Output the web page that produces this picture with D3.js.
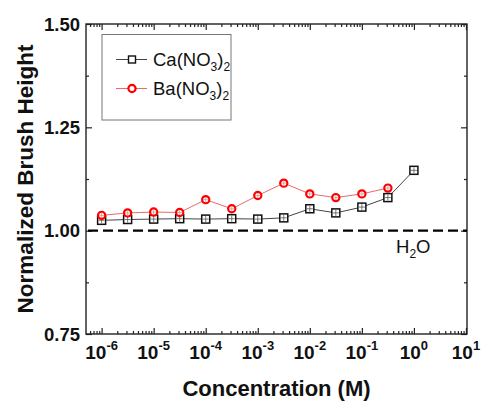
<!DOCTYPE html>
<html>
<head>
<meta charset="utf-8">
<script src="https://cdn.jsdelivr.net/npm/d3@7"></script>
<style>
  html, body { margin: 0; padding: 0; background: #fff; }
  svg { display: block; font-family: "Liberation Sans", Arial, sans-serif; }
</style>
</head>
<body>
<svg id="chart" width="481" height="401"></svg>
<script>
// Concentrations (M), half-decade steps
const concCa = [1e-6, 3.16e-6, 1e-5, 3.16e-5, 1e-4, 3.16e-4, 1e-3, 3.16e-3, 1e-2, 3.16e-2, 1e-1, 3.16e-1, 1];
const concBa = [1e-6, 3.16e-6, 1e-5, 3.16e-5, 1e-4, 3.16e-4, 1e-3, 3.16e-3, 1e-2, 3.16e-2, 1e-1, 3.16e-1];
// Normalized brush height
const heightCa = [1.025, 1.027, 1.028, 1.029, 1.028, 1.029, 1.028, 1.031, 1.053, 1.043, 1.057, 1.080, 1.146];
const heightBa = [1.037, 1.043, 1.045, 1.044, 1.075, 1.053, 1.085, 1.115, 1.089, 1.080, 1.089, 1.103];
// Axis ticks
const xTickExp = [-6, -5, -4, -3, -2, -1, 0, 1];
const yTicks = [0.75, 1.00, 1.25, 1.50];
const yMinor = [0.875, 1.125, 1.375];
const referenceLevel = 1.0;

const svg = d3.select("#chart");
const plotL = 86, plotR = 467, plotT = 24, plotB = 334;

const x = d3.scaleLog().domain([Math.pow(10, -6.3), Math.pow(10, 1.02)]).range([plotL, plotR]);
const y = d3.scaleLinear().domain([0.75, 1.5]).range([plotB, plotT]);

const axisColor = "#222";

// minor x ticks (2..9 per decade)
const xMinor = [];
for (let e = -7; e <= 1; e++) {
  for (let m = 2; m <= 9; m++) {
    const v = m * Math.pow(10, e);
    if (v > x.domain()[0] && v < x.domain()[1]) xMinor.push(v);
  }
}
const xMajor = xTickExp.map(e => Math.pow(10, e));

function styleAxis(g) {
  g.select(".domain").remove();
  g.selectAll("line").attr("stroke", axisColor).attr("stroke-width", 1.2);
  g.selectAll("text").remove();
}

// bottom and top ticks (inward)
svg.append("g").attr("transform", `translate(0,${plotB})`)
  .call(d3.axisBottom(x).tickValues(xMajor).tickSize(-6).tickFormat("")).call(styleAxis);
svg.append("g").attr("transform", `translate(0,${plotB})`)
  .call(d3.axisBottom(x).tickValues(xMinor).tickSize(-3).tickFormat("")).call(styleAxis);
svg.append("g").attr("transform", `translate(0,${plotT})`)
  .call(d3.axisTop(x).tickValues(xMajor).tickSize(-6).tickFormat("")).call(styleAxis);
svg.append("g").attr("transform", `translate(0,${plotT})`)
  .call(d3.axisTop(x).tickValues(xMinor).tickSize(-3).tickFormat("")).call(styleAxis);

// left and right ticks (inward)
svg.append("g").attr("transform", `translate(${plotL},0)`)
  .call(d3.axisLeft(y).tickValues(yTicks).tickSize(-6).tickFormat("")).call(styleAxis);
svg.append("g").attr("transform", `translate(${plotL},0)`)
  .call(d3.axisLeft(y).tickValues(yMinor).tickSize(-3).tickFormat("")).call(styleAxis);
svg.append("g").attr("transform", `translate(${plotR},0)`)
  .call(d3.axisRight(y).tickValues(yTicks).tickSize(-6).tickFormat("")).call(styleAxis);
svg.append("g").attr("transform", `translate(${plotR},0)`)
  .call(d3.axisRight(y).tickValues(yMinor).tickSize(-3).tickFormat("")).call(styleAxis);

// frame
svg.append("rect")
  .attr("x", plotL).attr("y", plotT)
  .attr("width", plotR - plotL).attr("height", plotB - plotT)
  .attr("fill", "none").attr("stroke", axisColor).attr("stroke-width", 1.4);

// y tick labels
svg.append("g").selectAll("text").data(yTicks).join("text")
  .attr("x", plotL - 6).attr("y", d => y(d) + 6.5)
  .attr("text-anchor", "end")
  .attr("font-size", 18.5).attr("font-weight", "bold").attr("fill", "#111")
  .text(d => d.toFixed(2));

// x tick labels: 10 with superscript exponent
const xl = svg.append("g").selectAll("text").data(xTickExp).join("text")
  .attr("x", d => x(Math.pow(10, d)))
  .attr("y", 359)
  .attr("text-anchor", "middle")
  .attr("font-weight", "bold").attr("fill", "#111");
xl.append("tspan").attr("font-size", 19).text("10");
xl.append("tspan").attr("font-size", 13).attr("dy", -9).text(d => String(d));

// axis titles
svg.append("text")
  .attr("x", (plotL + plotR) / 2).attr("y", 396)
  .attr("text-anchor", "middle")
  .attr("font-size", 22).attr("font-weight", "bold").attr("fill", "#111")
  .text("Concentration (M)");
svg.append("text")
  .attr("transform", `translate(33,${(plotT + plotB) / 2}) rotate(-90)`)
  .attr("text-anchor", "middle")
  .attr("font-size", 22.5).attr("font-weight", "bold").attr("fill", "#111")
  .text("Normalized Brush Height");

// reference level (water)
svg.append("line")
  .attr("x1", plotL + 2).attr("x2", plotR)
  .attr("y1", y(referenceLevel)).attr("y2", y(referenceLevel))
  .attr("stroke", "#000").attr("stroke-width", 2.4)
  .attr("stroke-dasharray", "10,5");

const h2o = svg.append("text").attr("x", 396).attr("y", 253)
  .attr("font-size", 18.5).attr("fill", "#111");
h2o.append("tspan").text("H");
h2o.append("tspan").attr("font-size", 12).attr("dy", 5).text("2");
h2o.append("tspan").attr("dy", -5).text("O");

const line = d3.line().x(d => x(d[0])).y(d => y(d[1]));
const dataCa = concCa.map((c, i) => [c, heightCa[i]]);
const dataBa = concBa.map((c, i) => [c, heightBa[i]]);

// Ca(NO3)2 series
svg.append("path").datum(dataCa).attr("d", line)
  .attr("fill", "none").attr("stroke", "#444").attr("stroke-width", 1);
const sq = 8;
const caG = svg.append("g").selectAll("g").data(dataCa).join("g")
  .attr("transform", d => `translate(${x(d[0])},${y(d[1])})`);
caG.append("rect").attr("x", -sq / 2).attr("y", -sq / 2).attr("width", sq).attr("height", sq)
  .attr("fill", "#fff").attr("stroke", "#111").attr("stroke-width", 1.5);
caG.append("path").attr("d", "M-3,0H3M0,-3V3").attr("stroke", "#555").attr("stroke-width", 0.8);

// Ba(NO3)2 series
svg.append("path").datum(dataBa).attr("d", line)
  .attr("fill", "none").attr("stroke", "#e86a6a").attr("stroke-width", 1);
const baG = svg.append("g").selectAll("g").data(dataBa).join("g")
  .attr("transform", d => `translate(${x(d[0])},${y(d[1])})`);
baG.append("circle").attr("r", 3.6)
  .attr("fill", "#fff").attr("stroke", "#ff0000").attr("stroke-width", 2.2);
baG.append("path").attr("d", "M-2.5,0H2.5M0,-2.5V2.5").attr("stroke", "#c99").attr("stroke-width", 0.8);

// legend
const lg = svg.append("g");
lg.append("rect").attr("x", 102).attr("y", 34.5).attr("width", 129).attr("height", 85.5)
  .attr("fill", "#fff").attr("stroke", "#777").attr("stroke-width", 1);

const legendItems = [
  { name: "Ca(NO", y: 59.5, type: "sq" },
  { name: "Ba(NO", y: 88.5, type: "ci" }
];
legendItems.forEach(it => {
  lg.append("line").attr("x1", 116).attr("x2", 147).attr("y1", it.y).attr("y2", it.y)
    .attr("stroke", it.type === "sq" ? "#444" : "#e86a6a").attr("stroke-width", 1);
  if (it.type === "sq") {
    lg.append("rect").attr("x", 132 - 3.5).attr("y", it.y - 3.5).attr("width", 7).attr("height", 7)
      .attr("fill", "#fff").attr("stroke", "#111").attr("stroke-width", 1.4);
  } else {
    lg.append("circle").attr("cx", 132).attr("cy", it.y).attr("r", 3.6)
      .attr("fill", "#fff").attr("stroke", "#ff0000").attr("stroke-width", 2.2);
  }
  const t = lg.append("text").attr("x", 153).attr("y", it.y + 6).attr("font-size", 18.5).attr("fill", "#111");
  t.append("tspan").text(it.name);
  t.append("tspan").attr("font-size", 12).attr("dy", 5).text("3");
  t.append("tspan").attr("dy", -5).text(")");
  t.append("tspan").attr("font-size", 12).attr("dy", 5).text("2");
});
</script>
</body>
</html>
